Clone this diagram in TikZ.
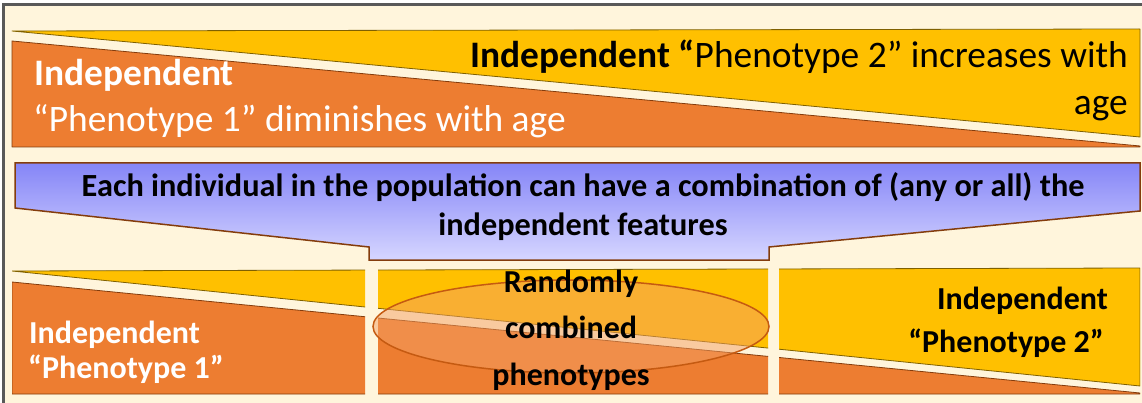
\documentclass[tikz,border=0pt]{standalone}
\usepackage{fontspec}
\setmainfont{Carlito}
\usetikzlibrary{shapes.geometric}
\definecolor{bg}{HTML}{FFF5DC}
\definecolor{org}{HTML}{ED7D31}
\definecolor{yel}{HTML}{FFC000}
\definecolor{orgline}{HTML}{843C0C}
\definecolor{yelline}{HTML}{7F6000}
\definecolor{bluetop}{HTML}{8585F7}
\definecolor{bluebot}{HTML}{D6D6FF}
\definecolor{ellfill}{HTML}{F4A064}
\definecolor{ellline}{HTML}{C55A11}
\definecolor{framegray}{HTML}{595959}
\begin{document}
\begin{tikzpicture}[x=1pt,y=-1pt,
  yelband/.style={fill=yel,draw=yelline,line width=0.8pt,line join=round},
  orgband/.style={fill=org,draw=orgline,line width=0.8pt,line join=round},
  bigtxt/.style={font=\fontsize{37.4}{42}\selectfont,inner sep=0pt},
  calltxt/.style={font=\bfseries\fontsize{32.3}{36}\selectfont,inner sep=0pt},
  midtxt/.style={font=\bfseries\fontsize{32}{36}\selectfont,inner sep=0pt},
  callout/.style={draw=orgline,line width=1.5pt,top color=bluetop,bottom color=bluebot},
  combo/.style={ellipse,draw=ellline,line width=1.5pt,fill=ellfill,fill opacity=0.5,inner sep=0pt,minimum width=396pt,minimum height=93pt}
]
\useasboundingbox (0,0) rectangle (1142,403);
\clip (0,0) rectangle (1142,403);
\fill[white] (0,0) rectangle (1142,403);
\fill[bg] (3,5) rectangle (1142,403);
\draw[framegray,line width=3pt] (3,410) -- (3,5) -- (1150,5);

% top band
\draw[yelband] (12,31) -- (1140,29) -- (1140,137) -- cycle;
\draw[orgband] (12,41) -- (1140,146) -- (1140,147) -- (12,147) -- cycle;
\node[bigtxt,text=white,anchor=base west] (t1) at (34,86) {\bfseries Independent};
\node[bigtxt,text=white,anchor=base west] (t2) at (33,132) {“Phenotype 1” diminishes with age};
\node[bigtxt,anchor=base east] (t3) at (1128,68) {\textbf{Independent “}Phenotype 2” increases with};
\node[bigtxt,anchor=base east] (t4) at (1128,115) {age};

% callout
\draw[callout] (15,163) -- (1140,163) -- (1140,211) -- (769,247) -- (769,260) -- (369,260) -- (369,247) -- (15,208) -- cycle;
\node[calltxt,anchor=base] (b1) at (583,197) {Each individual in the population can have a combination of (any or all) the};
\node[calltxt,anchor=base] (b2) at (583,236) {independent features};

% bottom panels
\foreach \a/\b in {12/365,378/768,779/1140} {
  \begin{scope}
    \clip (\a,264) rectangle (\b,400);
    \draw[yelband] (12,271) -- (1140,268) -- (1140,386) -- cycle;
    \draw[orgband] (12,282) -- (1140,393) -- (1140,394) -- (12,394) -- cycle;
  \end{scope}
}
\node[combo] (ell) at (571,326.5) {};
\node[midtxt,anchor=base] (m1) at (571,292) {Randomly};
\node[midtxt,anchor=base] (m2) at (571,338) {combined};
\node[midtxt,anchor=base] (m3) at (571,385) {phenotypes};
\node[midtxt,text=white,anchor=base west] (l1) at (29,343) {Independent};
\node[midtxt,text=white,anchor=base west] (l2) at (28,378) {“Phenotype 1”};
\node[midtxt,anchor=base east] (r1) at (1108,309) {Independent};
\node[midtxt,anchor=base east] (r2) at (1104,352) {“Phenotype 2”};
\end{tikzpicture}
\end{document}
